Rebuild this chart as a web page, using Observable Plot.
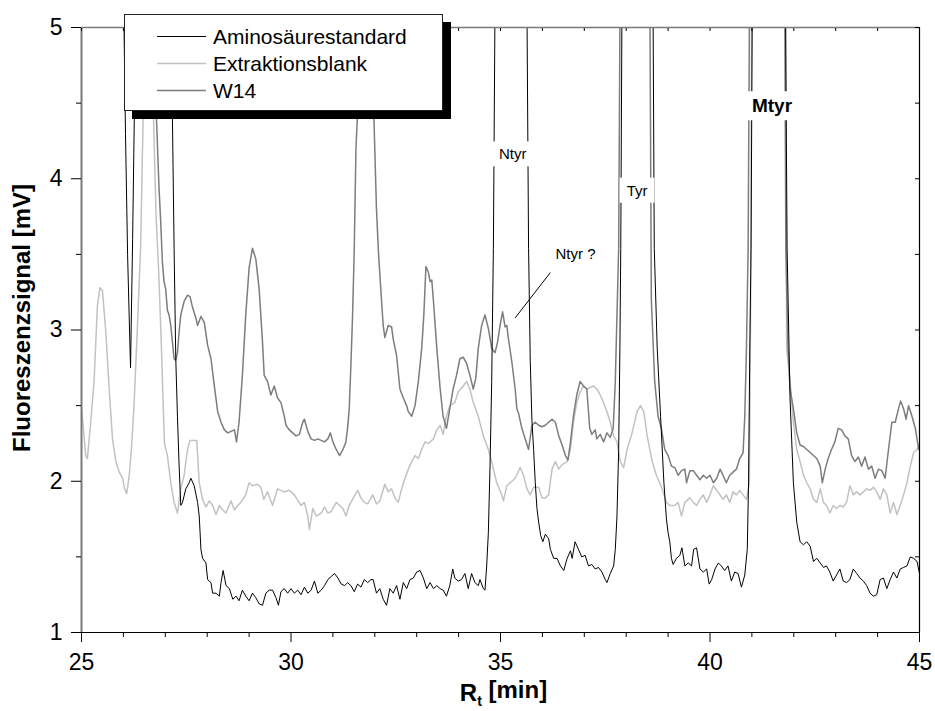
<!DOCTYPE html>
<html>
<head>
<meta charset="utf-8">
<script src="https://cdn.jsdelivr.net/npm/d3@7"></script>
<script src="https://cdn.jsdelivr.net/npm/@observablehq/plot@0.6"></script>
<style>
  body { margin: 0; background: #fff; }
  #wrap { position: relative; width: 935px; height: 711px; font-family: "Liberation Sans", Arial, sans-serif; }
  #legend { position: absolute; left: 124px; top: 14px; width: 317px; height: 95px; background: #fff; border: 1px solid #222; box-shadow: 8px 8px 0 #000; }
  #legend svg { display: block; }
</style>
</head>
<body>
<div id="wrap"><div id="legend"></div></div>
<script>
// ---------- data (retention time [min], signal [mV]) ----------
const seriesNames = ["Aminosäurestandard", "Extraktionsblank", "W14"];
const seriesColors = ["#000000", "#c2c2c2", "#7d7d7d"];
const seriesWidths = [1, 1.5, 1.5];

const aminoStd = [
[25.0,9],[25.9,8],[25.99,5.5],[26.05,4.3],[26.1,3.5],[26.17,2.75],[26.22,3.6],[26.27,4.6],[26.32,6],[26.8,9],[27.12,6],
[27.17,4.4],[27.21,3.54],[27.25,2.81],[27.29,2.43],[27.33,2.10],[27.37,1.84],[27.41,1.86],[27.49,1.95],[27.57,1.99],[27.61,2.02],
[27.69,1.97],[27.77,1.86],[27.81,1.77],[27.85,1.55],[27.89,1.49],[27.97,1.46],[28.01,1.35],[28.09,1.33],[28.13,1.26],[28.21,1.26],
[28.29,1.24],[28.33,1.33],[28.38,1.41],[28.45,1.31],[28.53,1.29],[28.61,1.22],[28.69,1.24],[28.76,1.21],[28.84,1.28],[28.92,1.24],
[29.00,1.21],[29.08,1.26],[29.16,1.23],[29.24,1.19],[29.32,1.18],[29.40,1.26],[29.48,1.28],[29.56,1.28],[29.64,1.23],[29.70,1.18],
[29.76,1.27],[29.84,1.29],[29.92,1.26],[30.00,1.29],[30.08,1.26],[30.16,1.28],[30.24,1.25],[30.32,1.30],[30.40,1.26],[30.48,1.28],
[30.56,1.34],[30.64,1.26],[30.72,1.28],[30.80,1.31],[30.88,1.35],[30.96,1.37],[31.04,1.39],[31.12,1.36],[31.20,1.32],[31.28,1.31],
[31.35,1.33],[31.43,1.31],[31.51,1.27],[31.59,1.32],[31.67,1.30],[31.75,1.35],[31.83,1.33],[31.91,1.35],[31.96,1.35],[32.04,1.26],
[32.12,1.29],[32.20,1.22],[32.28,1.18],[32.36,1.29],[32.44,1.26],[32.52,1.31],[32.60,1.22],[32.68,1.33],[32.76,1.29],[32.84,1.35],
[32.92,1.36],[33.00,1.40],[33.08,1.41],[33.16,1.36],[33.24,1.29],[33.32,1.33],[33.40,1.29],[33.48,1.31],[33.56,1.29],[33.63,1.28],
[33.71,1.24],[33.79,1.31],[33.86,1.42],[33.91,1.36],[33.99,1.34],[34.07,1.35],[34.15,1.39],[34.23,1.29],[34.31,1.39],[34.39,1.33],
[34.47,1.31],[34.51,1.35],[34.59,1.29],[34.63,1.28],[34.67,1.44],[34.71,1.66],[34.75,2.10],[34.79,2.66],[34.83,3.54],[34.87,5.2],
[35.25,25],[35.63,5.2],[35.67,3.54],[35.71,2.8],[35.75,2.4],[35.79,2.21],[35.83,1.99],[35.87,1.82],[35.91,1.73],[35.96,1.64],
[36.01,1.60],[36.07,1.65],[36.15,1.62],[36.19,1.55],[36.27,1.49],[36.35,1.49],[36.43,1.44],[36.51,1.41],[36.59,1.49],[36.67,1.54],
[36.71,1.49],[36.78,1.60],[36.86,1.55],[36.94,1.50],[37.02,1.51],[37.10,1.44],[37.18,1.45],[37.26,1.42],[37.34,1.43],[37.42,1.40],
[37.50,1.35],[37.54,1.33],[37.62,1.39],[37.70,1.44],[37.74,1.55],[37.78,1.77],[37.82,2.21],[37.85,2.88],[37.87,3.54],[37.90,5.2],
[38.27,25],[38.64,5.2],[38.67,3.54],[38.74,2.88],[38.82,2.43],[38.90,1.99],[38.96,1.75],[39.00,1.66],[39.04,1.60],[39.08,1.49],
[39.12,1.45],[39.20,1.49],[39.28,1.51],[39.33,1.56],[39.40,1.44],[39.48,1.46],[39.56,1.44],[39.61,1.55],[39.68,1.56],[39.76,1.42],
[39.84,1.40],[39.92,1.42],[39.98,1.32],[40.04,1.35],[40.12,1.42],[40.20,1.46],[40.27,1.44],[40.35,1.41],[40.43,1.44],[40.51,1.34],
[40.59,1.40],[40.67,1.39],[40.75,1.30],[40.83,1.38],[40.89,1.55],[40.92,1.99],[40.95,2.88],[40.98,3.54],[41.01,5.2],[41.40,30],
[41.80,5.2],[41.84,3.54],[41.91,2.55],[41.99,1.99],[42.07,1.73],[42.15,1.60],[42.23,1.58],[42.31,1.60],[42.39,1.57],[42.47,1.47],
[42.55,1.49],[42.63,1.46],[42.71,1.43],[42.78,1.44],[42.86,1.40],[42.94,1.34],[43.02,1.38],[43.10,1.42],[43.18,1.34],[43.26,1.33],
[43.34,1.35],[43.42,1.42],[43.50,1.39],[43.58,1.36],[43.66,1.34],[43.74,1.31],[43.82,1.26],[43.90,1.24],[43.98,1.25],[44.06,1.35],
[44.14,1.36],[44.22,1.29],[44.30,1.35],[44.38,1.40],[44.46,1.36],[44.54,1.42],[44.62,1.43],[44.70,1.44],[44.78,1.50],[44.86,1.49],
[44.94,1.47],[45.00,1.39]
];

const extBlank = [
[25.00,2.49],[25.06,2.30],[25.10,2.17],[25.14,2.15],[25.22,2.39],[25.30,2.66],[25.38,3.16],[25.44,3.28],[25.50,3.26],[25.58,2.99],
[25.66,2.61],[25.74,2.28],[25.82,2.13],[25.90,2.06],[25.98,2.02],[26.03,1.95],[26.08,1.92],[26.14,2.04],[26.19,2.21],[26.25,2.48],
[26.33,2.99],[26.41,3.54],[26.47,4.39],[26.58,4.75],[26.64,4.8],[26.72,4.39],[26.78,3.75],[26.84,3.4],[26.90,2.95],[26.95,2.5],
[26.98,2.25],[27.05,2.17],[27.13,1.99],[27.21,1.86],[27.29,1.79],[27.37,1.95],[27.45,2.04],[27.53,2.21],[27.59,2.27],[27.69,2.27],
[27.75,2.27],[27.81,1.99],[27.89,1.88],[27.97,1.83],[28.05,1.87],[28.13,1.84],[28.21,1.78],[28.29,1.84],[28.37,1.81],[28.45,1.79],
[28.57,1.87],[28.65,1.81],[28.73,1.84],[28.80,1.86],[28.92,1.91],[29.00,1.99],[29.08,1.97],[29.20,1.98],[29.28,1.96],[29.35,1.88],
[29.44,1.93],[29.56,1.84],[29.68,1.95],[29.76,1.94],[29.84,1.93],[29.96,1.94],[30.08,1.91],[30.24,1.84],[30.32,1.86],[30.40,1.77],
[30.44,1.68],[30.52,1.82],[30.60,1.77],[30.72,1.79],[30.80,1.83],[30.88,1.79],[30.96,1.80],[31.08,1.86],[31.16,1.84],[31.24,1.82],
[31.31,1.77],[31.39,1.84],[31.47,1.88],[31.59,1.94],[31.67,1.89],[31.75,1.86],[31.83,1.85],[31.95,1.91],[32.04,1.85],[32.12,1.87],
[32.24,1.98],[32.32,1.93],[32.40,1.95],[32.48,1.89],[32.56,1.86],[32.64,1.95],[32.72,2.02],[32.80,2.08],[32.88,2.13],[32.96,2.17],
[33.04,2.15],[33.12,2.21],[33.20,2.26],[33.28,2.25],[33.40,2.28],[33.48,2.34],[33.56,2.37],[33.63,2.31],[33.71,2.43],[33.79,2.50],
[33.91,2.52],[33.99,2.59],[34.11,2.63],[34.19,2.66],[34.27,2.61],[34.35,2.52],[34.47,2.43],[34.59,2.30],[34.71,2.21],[34.79,2.13],
[34.91,1.99],[35.03,1.91],[35.07,1.87],[35.15,1.97],[35.23,1.99],[35.35,2.02],[35.47,2.09],[35.55,2.04],[35.63,1.95],[35.71,1.91],
[35.79,1.96],[35.91,1.96],[35.99,1.89],[36.07,1.89],[36.15,1.91],[36.23,2.08],[36.31,2.13],[36.39,2.08],[36.47,2.11],[36.59,2.13],
[36.67,2.21],[36.74,2.39],[36.82,2.52],[36.90,2.59],[36.98,2.63],[37.06,2.61],[37.14,2.62],[37.22,2.63],[37.30,2.61],[37.38,2.57],
[37.46,2.52],[37.54,2.46],[37.62,2.39],[37.70,2.30],[37.78,2.26],[37.86,2.13],[37.94,2.09],[38.02,2.21],[38.14,2.32],[38.26,2.46],
[38.34,2.50],[38.42,2.46],[38.50,2.30],[38.62,2.13],[38.72,2.04],[38.80,1.99],[38.88,1.93],[38.96,1.86],[39.04,1.84],[39.16,1.84],
[39.24,1.86],[39.32,1.77],[39.40,1.86],[39.52,1.89],[39.60,1.86],[39.68,1.84],[39.76,1.88],[39.84,1.91],[39.92,1.86],[40.00,1.91],
[40.08,1.97],[40.16,1.94],[40.24,1.91],[40.31,1.88],[40.39,1.91],[40.47,1.86],[40.55,1.93],[40.63,1.91],[40.71,1.94],[40.79,1.91],
[40.87,1.88],[40.94,1.99],[40.97,3.2],[41.00,5.5],[41.40,28],[41.80,5.5],[41.83,2.88],[41.91,2.66],[41.99,2.39],[42.07,2.21],
[42.15,2.13],[42.23,2.04],[42.31,1.99],[42.39,1.95],[42.47,1.88],[42.55,1.86],[42.63,1.95],[42.71,1.86],[42.78,1.84],[42.86,1.79],
[42.94,1.84],[43.02,1.82],[43.10,1.84],[43.18,1.83],[43.26,1.86],[43.34,1.97],[43.42,1.91],[43.50,1.93],[43.58,1.91],[43.66,1.93],
[43.74,1.95],[43.82,1.94],[43.90,1.96],[43.98,1.93],[44.06,1.88],[44.14,1.95],[44.22,1.91],[44.30,1.79],[44.38,1.86],[44.46,1.78],
[44.54,1.84],[44.62,1.91],[44.70,1.99],[44.78,2.10],[44.86,2.19],[44.94,2.21],[45.00,2.24]
];

const w14 = [
[25.0,7.5],[26.6,7.0],[26.72,5.5],[26.79,4.39],[26.85,3.94],[26.89,3.72],[26.93,3.45],[26.97,3.32],[27.01,3.27],[27.05,3.13],
[27.09,3.10],[27.13,3.03],[27.17,2.92],[27.21,2.81],[27.25,2.80],[27.29,2.85],[27.33,2.99],[27.37,3.10],[27.45,3.19],[27.53,3.23],
[27.59,3.22],[27.65,3.15],[27.73,3.08],[27.77,3.03],[27.85,3.09],[27.93,3.05],[28.01,2.90],[28.09,2.81],[28.17,2.63],[28.25,2.46],
[28.33,2.39],[28.41,2.34],[28.49,2.32],[28.57,2.33],[28.65,2.34],[28.70,2.26],[28.76,2.39],[28.84,2.70],[28.92,3.10],[29.00,3.41],
[29.08,3.54],[29.16,3.47],[29.24,3.27],[29.32,2.92],[29.36,2.70],[29.44,2.66],[29.52,2.57],[29.60,2.63],[29.68,2.55],[29.76,2.52],
[29.84,2.43],[29.88,2.37],[29.96,2.34],[30.04,2.32],[30.12,2.30],[30.20,2.31],[30.28,2.39],[30.32,2.41],[30.40,2.33],[30.48,2.28],
[30.56,2.27],[30.64,2.28],[30.72,2.27],[30.80,2.26],[30.88,2.28],[30.94,2.32],[31.00,2.26],[31.08,2.21],[31.16,2.17],[31.24,2.21],
[31.31,2.26],[31.35,2.35],[31.39,2.48],[31.43,2.77],[31.47,3.10],[31.51,3.54],[31.55,4.2],[31.75,5.4],[31.98,4.39],[32.04,3.8],
[32.09,3.5],[32.16,3.2],[32.20,3.03],[32.24,2.95],[32.32,3.03],[32.40,3.02],[32.44,2.94],[32.52,2.83],[32.60,2.61],[32.68,2.55],
[32.76,2.50],[32.80,2.46],[32.88,2.43],[32.96,2.50],[33.04,2.66],[33.12,2.88],[33.17,3.10],[33.22,3.42],[33.28,3.38],[33.32,3.32],
[33.36,3.33],[33.40,3.19],[33.48,2.88],[33.56,2.61],[33.63,2.43],[33.71,2.35],[33.79,2.48],[33.87,2.61],[33.95,2.70],[34.03,2.81],
[34.11,2.82],[34.19,2.78],[34.27,2.70],[34.35,2.61],[34.41,2.68],[34.47,2.88],[34.55,3.03],[34.63,3.10],[34.71,3.01],[34.79,2.88],
[34.87,2.85],[34.93,2.92],[34.99,3.03],[35.05,3.12],[35.11,3.02],[35.15,3.03],[35.19,2.94],[35.27,2.79],[35.35,2.61],[35.39,2.48],
[35.43,2.45],[35.51,2.35],[35.59,2.28],[35.67,2.21],[35.75,2.37],[35.83,2.39],[35.91,2.37],[35.99,2.36],[36.07,2.37],[36.15,2.39],
[36.23,2.41],[36.31,2.39],[36.39,2.30],[36.47,2.24],[36.55,2.17],[36.61,2.14],[36.67,2.26],[36.74,2.43],[36.82,2.57],[36.90,2.66],
[36.98,2.63],[37.06,2.61],[37.13,2.35],[37.18,2.31],[37.26,2.34],[37.30,2.28],[37.38,2.31],[37.46,2.26],[37.54,2.32],[37.62,2.29],
[37.69,2.35],[37.74,2.66],[37.78,3.10],[37.82,3.54],[37.86,5.5],[38.22,25],[38.56,5.5],[38.60,3.2],[38.68,2.66],[38.76,2.43],
[38.84,2.35],[38.92,2.21],[39.00,2.17],[39.08,2.10],[39.16,2.09],[39.24,2.04],[39.32,2.07],[39.40,2.08],[39.44,1.99],[39.52,2.07],
[39.60,2.07],[39.68,2.04],[39.76,2.01],[39.84,2.04],[39.92,2.02],[40.00,2.04],[40.08,1.99],[40.16,2.02],[40.24,2.08],[40.31,2.04],
[40.39,1.99],[40.47,2.04],[40.55,2.06],[40.63,2.08],[40.71,2.15],[40.79,2.19],[40.83,2.43],[40.87,2.88],[40.91,3.54],[40.95,5.5],
[41.38,30],[41.78,5.5],[41.81,3.54],[41.86,2.9],[41.91,2.61],[41.99,2.48],[42.07,2.32],[42.15,2.24],[42.23,2.23],[42.31,2.21],
[42.39,2.19],[42.47,2.17],[42.55,2.15],[42.63,2.10],[42.68,1.99],[42.75,2.08],[42.82,2.15],[42.90,2.21],[42.98,2.26],[43.06,2.35],
[43.14,2.34],[43.22,2.30],[43.30,2.28],[43.38,2.17],[43.46,2.13],[43.54,2.16],[43.62,2.10],[43.70,2.16],[43.78,2.08],[43.86,2.10],
[43.94,2.02],[44.02,2.08],[44.10,2.07],[44.18,2.02],[44.26,2.21],[44.34,2.39],[44.42,2.39],[44.50,2.48],[44.55,2.53],[44.62,2.48],
[44.68,2.41],[44.74,2.50],[44.82,2.43],[44.90,2.35],[44.98,2.21],[45.00,2.24]
];

// ---------- axes ----------
const xMajor = [25, 30, 35, 40, 45];
const xMinor = [26, 27, 28, 29, 31, 32, 33, 34, 36, 37, 38, 39, 41, 42, 43, 44];
const yMajor = [1, 2, 3, 4, 5];
const yMinor = [1.5, 2.5, 3.5, 4.5];
const xTitle = "Rt [min]";
const yTitle = "Fluoreszenzsignal [mV]";

// ---------- peak annotations ----------
const peakLabels = [
  {x: 35.29, y: 4.16, text: "Ntyr"},
  {x: 38.26, y: 3.92, text: "Tyr"},
  {x: 36.79, y: 3.50, text: "Ntyr ?"}
];
const boldLabels = [{x: 41.48, y: 4.48, text: "Mtyr"}];
const leader = [{x1: 36.19, y1: 3.38, x2: 35.35, y2: 3.08}];

const font = "'Liberation Sans', Arial, Helvetica, sans-serif";
const X = d => d[0], Y = d => d[1];
const intFmt = d => String(d);

const chart = Plot.plot({
  width: 935,
  height: 711,
  marginLeft: 81,
  marginRight: 16,
  marginTop: 27,
  marginBottom: 79,
  x: {domain: [25, 45]},
  y: {domain: [1, 5]},
  style: {fontFamily: font, fontSize: "23px", color: "#000", background: "#fff", overflow: "visible"},
  marks: [
    Plot.line(extBlank, {x: X, y: Y, stroke: seriesColors[1], strokeWidth: seriesWidths[1], clip: true}),
    Plot.line(w14, {x: X, y: Y, stroke: seriesColors[2], strokeWidth: seriesWidths[2], clip: true}),
    Plot.line(aminoStd, {x: X, y: Y, stroke: seriesColors[0], strokeWidth: seriesWidths[0], clip: true}),
    // frame
    Plot.ruleX([25], {stroke: "#7a7a7a", strokeWidth: 2}),
    Plot.ruleY([5], {stroke: "#7a7a7a", strokeWidth: 1.6}),
    Plot.ruleY([1], {stroke: "#000", strokeWidth: 1.2}),
    Plot.ruleX([45], {stroke: "#000", strokeWidth: 1.2}),
    // axes
    Plot.axisY({ticks: yMajor, tickSize: 10, tickPadding: 9, fontSize: 23, tickFormat: intFmt, label: null}),
    Plot.axisY({ticks: yMinor, tickSize: 5, tickFormat: () => "", label: null}),
    Plot.axisY({ticks: yMajor.concat(yMinor), anchor: "right", tickSize: -5, tickFormat: () => "", label: null}),
    Plot.axisX({ticks: xMajor, tickSize: 10, tickPadding: 11, fontSize: 23, tickFormat: intFmt, label: null}),
    Plot.axisX({ticks: xMinor, tickSize: 5, tickFormat: () => "", label: null}),
    Plot.axisX({ticks: xMajor.concat(xMinor), anchor: "top", tickSize: -3, tickFormat: () => "", label: null}),
    // axis titles
    Plot.text([yTitle], {frameAnchor: "left", rotate: -90, textAnchor: "middle", lineAnchor: "middle",
      dx: -59, dy: -12, fontSize: 24, fontWeight: "bold", fill: "#000"}),
    Plot.text([xTitle], {frameAnchor: "bottom", textAnchor: "middle", lineAnchor: "middle",
      dx: 3, dy: 61, fontSize: 24, fontWeight: "bold", fill: "#000"}),
    // annotations
    Plot.link(leader, {x1: "x1", y1: "y1", x2: "x2", y2: "y2", stroke: "#000", strokeWidth: 1}),
    Plot.text(peakLabels, {x: "x", y: "y", text: "text", fontSize: 15, fill: "#000"}),
    Plot.text(boldLabels, {x: "x", y: "y", text: "text", fontSize: 19, fontWeight: "bold", fill: "#000"})
  ]
});

const wrap = document.getElementById("wrap");
wrap.insertBefore(chart, wrap.firstChild);

// subscript t in the x title
d3.select(chart).selectAll("text").filter(function() { return this.textContent === xTitle; })
  .each(function() {
    const t = d3.select(this);
    t.text(null);
    t.append("tspan").text("R");
    t.append("tspan").attr("dy", "0.35em").attr("font-size", "14px").text("t");
    t.append("tspan").attr("dy", "-0.35em").text(" [min]");
  });

// white boxes behind the peak labels (they break the traces like in the original)
const labelSet = new Set(peakLabels.concat(boldLabels).map(d => d.text));
d3.select(chart).selectAll("text").filter(function() { return labelSet.has(this.textContent); })
  .each(function() {
    const b = this.getBBox();
    const padX = 7, padY = 4;
    const r = document.createElementNS("http://www.w3.org/2000/svg", "rect");
    r.setAttribute("x", b.x - padX);
    r.setAttribute("y", b.y - padY);
    r.setAttribute("width", b.width + 2 * padX);
    r.setAttribute("height", b.height + 2 * padY);
    r.setAttribute("fill", "#fff");
    r.setAttribute("stroke", "none");
    const tr = this.getAttribute("transform");
    if (tr) r.setAttribute("transform", tr);
    this.parentNode.insertBefore(r, this);
  });

// legend (inside the plot area, white box with black drop shadow)
const lg = d3.select("#legend").append("svg").attr("width", 317).attr("height", 95)
  .style("font-family", font);
const rowY = [21.5, 48.5, 75.5];
seriesNames.forEach((name, i) => {
  lg.append("line").attr("x1", 32).attr("x2", 81).attr("y1", rowY[i]).attr("y2", rowY[i])
    .attr("stroke", seriesColors[i]).attr("stroke-width", seriesWidths[i]);
  lg.append("text").attr("x", 88).attr("y", rowY[i] + 7.5).attr("font-size", 21).attr("fill", "#000").text(name);
});
</script>
</body>
</html>
